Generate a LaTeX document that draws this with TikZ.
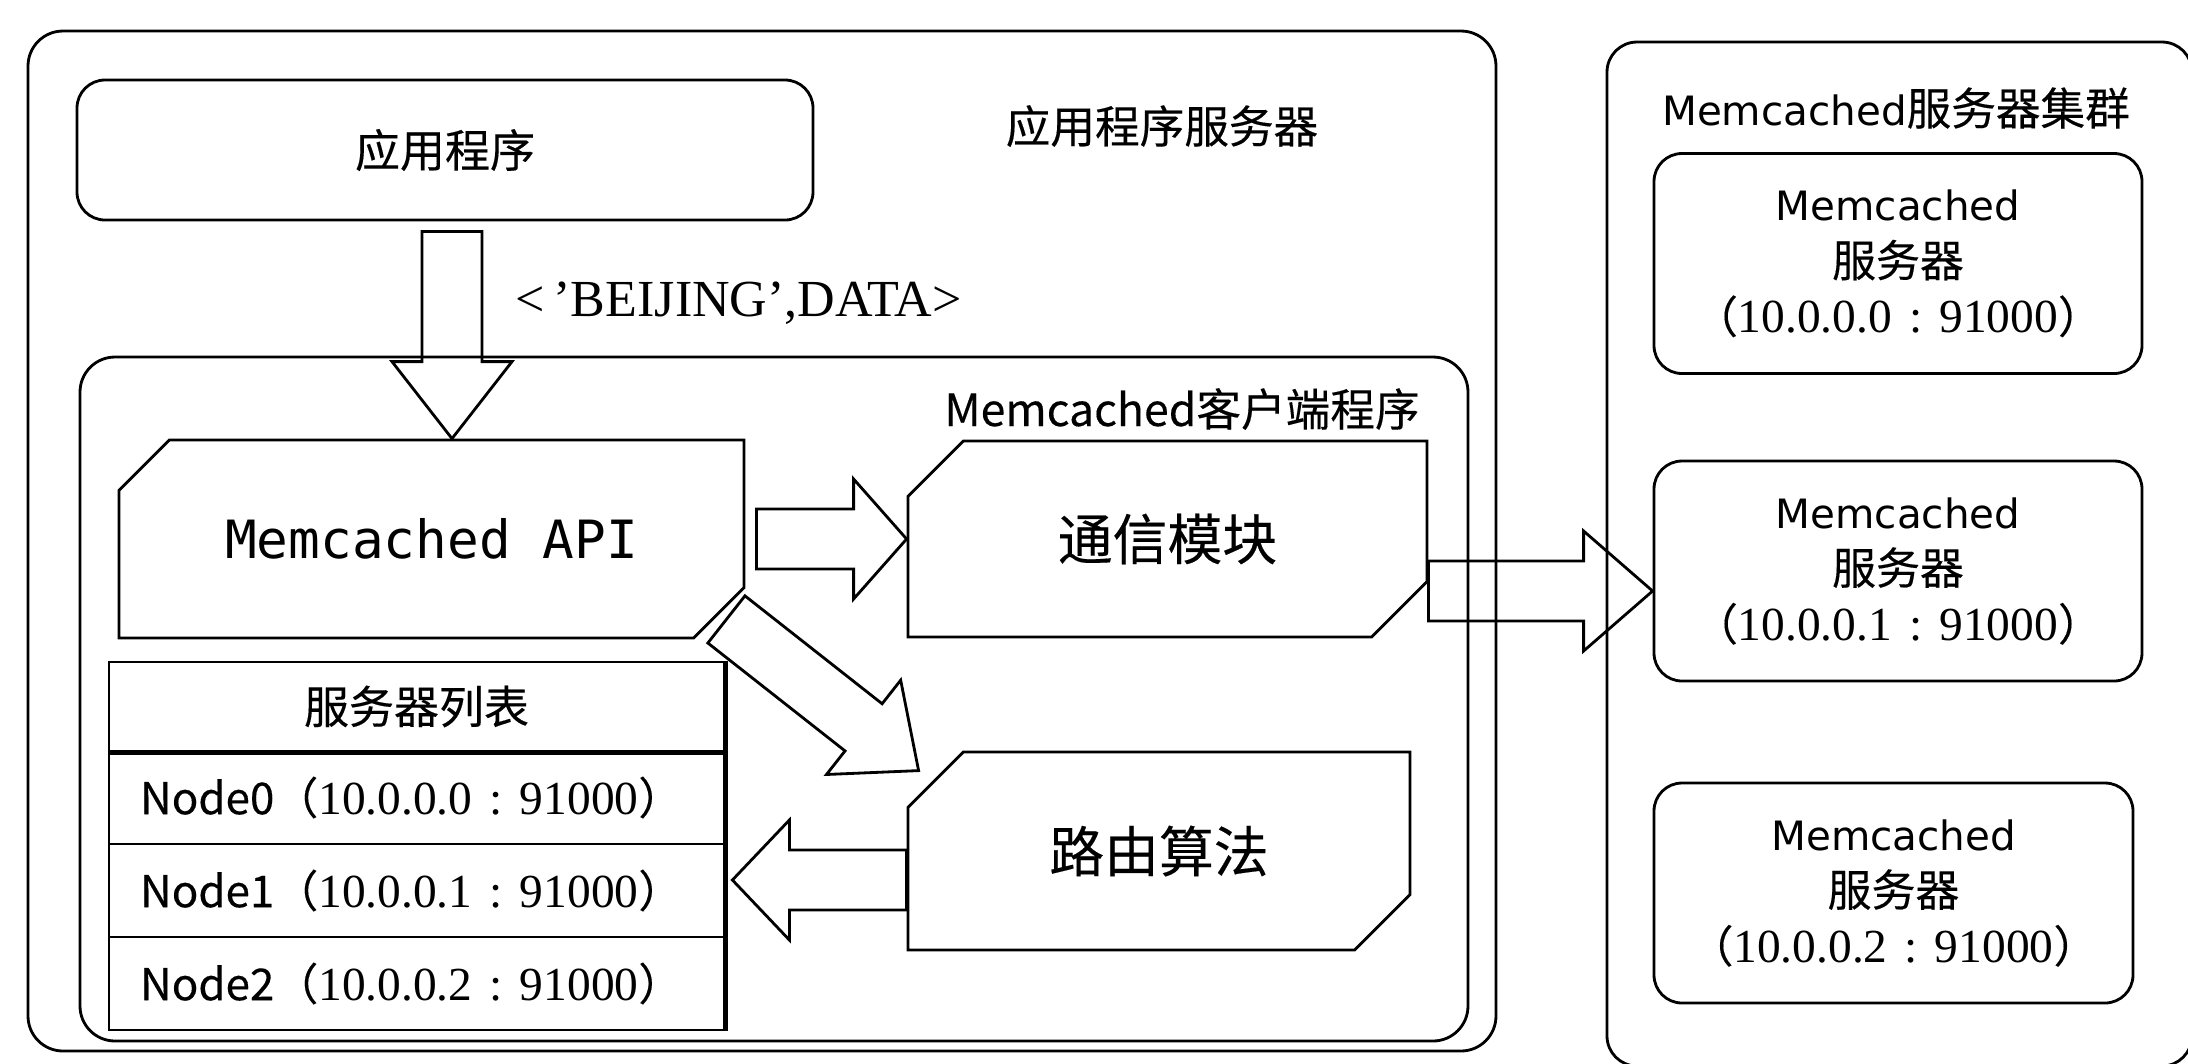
\documentclass[tikz,border=0pt]{standalone}
\usepackage{fontspec}
\setmainfont{Noto Sans CJK SC}[FakeBold=0.3]
\newfontfamily\tms{Liberation Serif}
\newfontfamily\dvs{DejaVu Sans}
\newfontfamily\dvm{DejaVu Sans Mono}
\usetikzlibrary{calc,shapes.misc}

\newcommand{\ipaddr}[1]{（{\tms\fontsize{13.5}{16}\selectfont #1\hspace{0.36em}:\hspace{0.36em}91000}）}
% hollow block arrow from #2 to #3, head length #1
\newcommand{\blockarrow}[3][6mm]{%
  \coordinate (hb) at ($(#3)!#1!(#2)$);
  \draw[blockarr] ($(#2)!3mm!90:(#3)$) -- ($(hb)!3mm!90:(#3)$) -- ($(hb)!6mm!90:(#3)$)
    -- (#3) -- ($(hb)!6mm!-90:(#3)$) -- ($(hb)!3mm!-90:(#3)$) -- ($(#2)!3mm!-90:(#3)$) -- cycle;}

\begin{document}
\begin{tikzpicture}[x=0.1mm, y=-0.1mm,
    frame/.style={rectangle, rounded corners=3.5mm, draw, line width=0.8pt},
    rbox/.style={rectangle, rounded corners=2.8mm, draw, line width=0.8pt, align=center},
    chbox/.style={chamfered rectangle, chamfered rectangle corners={north west, south east},
               chamfered rectangle xsep=3mm, chamfered rectangle ysep=3mm,
               draw, line width=0.8pt, inner sep=0pt},
    cell/.style={rectangle, draw, line width=0.8pt, minimum height=9.3mm, inner xsep=3.1mm,
               text width=55.3mm, align=left, font=\fontsize{12.5}{14}\selectfont},
    blockarr/.style={line width=0.8pt, line join=miter},
    lbl/.style={font=\fontsize{12.7}{15}\selectfont}
  ]
  \useasboundingbox (0,0) rectangle (2188,1063);

  % application server
  \node[frame, minimum width=146.8mm, minimum height=102mm] (appsrv) at (762,541) {};
  \node[lbl] (appsrvlbl) at (1162,126) {应用程序服务器};
  \node[rbox, minimum width=73.6mm, minimum height=14mm, font=\fontsize{12.8}{15}\selectfont] (app) at (445,150) {应用程序};
  \node[anchor=west, inner sep=0pt, font=\tms\fontsize{14.8}{17}\selectfont] (key) at (515,303) {<\,’BEIJING’,DATA>};

  % client
  \node[frame, minimum width=138.8mm, minimum height=68.4mm] (client) at (774,699) {};
  \node[lbl] (clientlbl) at (1182,409) {Memcached客户端程序};
  \node[chbox, minimum width=62.5mm, minimum height=19.8mm, font=\dvm\fontsize{15}{18}\selectfont] (api) at (431.5,539) {Memcached API};
  \node[chbox, minimum width=51.9mm, minimum height=19.6mm, font=\fontsize{15.6}{18}\selectfont] (comm) at (1167.5,539) {通信模块};
  \node[chbox, minimum width=50.2mm, minimum height=19.8mm, font=\fontsize{15.6}{18}\selectfont] (route) at (1159,851) {路由算法};

  % server list
  \node[cell, minimum height=8.9mm, align=center, font=\fontsize{12.8}{15}\selectfont] (listhead) at (416.5,706.5) {服务器列表};
  \foreach \i in {0,1,2}
    \node[cell] (row\i) at (416.5,797.5+93*\i) {Node\i\ipaddr{10.0.0.\i}};
  \draw[line width=1.6pt] (listhead.south west) -- (listhead.south east);
  \draw[line width=1.6pt] (listhead.north east) -- (row2.south east);

  % cluster
  \node[frame, rounded corners=3mm, minimum width=58.5mm, minimum height=102.4mm] (cluster) at (1899.5,554) {};
  \node[lbl] (clusterlbl) at (1896,108) {{\dvs\fontsize{11.5}{14}\selectfont Memcached}服务器集群};
  \foreach \i/\x/\y/\w in {0/1898/263.5/48.8, 1/1898/571/48.8, 2/1893.5/893/47.9}
    \node[rbox, minimum width=\w mm, minimum height=22mm, font=\fontsize{12.5}{16}\selectfont] (srv\i) at (\x,\y)
      {{\dvs\fontsize{11.5}{16}\selectfont Memcached}\\服务器\\\ipaddr{10.0.0.\i}};

  % arrows
  \coordinate (dn0) at ([xshift=0.7mm, yshift=-1mm]app.south);
  \coordinate (dn1) at (dn0 |- api.north);
  \blockarrow[7.7mm]{dn0}{dn1}
  \coordinate (rt0) at ([xshift=1.1mm]api.east);
  \blockarrow[5.3mm]{rt0}{comm.west}
  \coordinate (dg0) at ($(api.east |- api.south)+(-19,-20)$);
  \coordinate (dg1) at ($(route.west |- route.north)+(12,20)$);
  \blockarrow[7mm]{dg0}{dg1}
  \coordinate (lf0) at ([yshift=-2.9mm]route.west);
  \coordinate (lf1) at ($(lf0 -| row1.east)+(7,0)$);
  \blockarrow[5.7mm]{lf0}{lf1}
  \coordinate (cl1) at ([yshift=-2mm]srv1.west);
  \coordinate (cl0) at (comm.east |- cl1);
  \blockarrow[6.9mm]{cl0}{cl1}
\end{tikzpicture}
\end{document}
